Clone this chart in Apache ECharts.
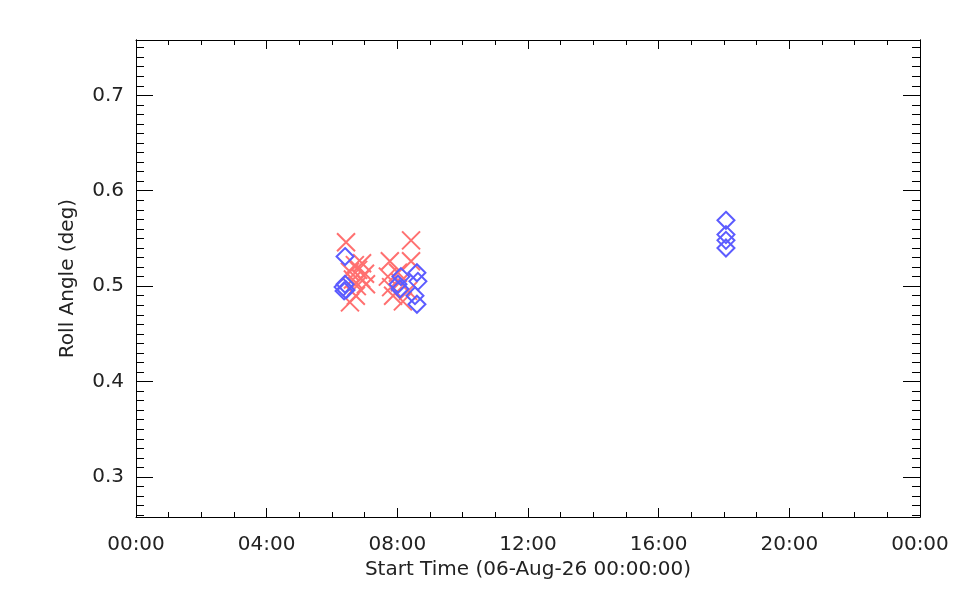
<!DOCTYPE html>
<html>
<head>
<meta charset="utf-8">
<script src="https://cdn.jsdelivr.net/npm/echarts@6/dist/echarts.min.js"></script>
<style>html,body{margin:0;padding:0;background:#fff;}#c{width:960px;height:600px;}</style>
</head>
<body>
<div id="c"></div>
<script>
// Start time in hours since 06-Aug-26 00:00:00, roll angle in deg
var redHours = [6.43, 6.70, 6.92, 6.55, 6.80, 7.01, 6.64, 6.89, 6.76, 7.04, 6.55, 6.73,
                8.42, 7.77, 8.42, 7.71, 8.02, 7.81, 7.87, 8.17, 8.33, 8.08];
var redRoll  = [0.546, 0.522, 0.524, 0.515, 0.517, 0.513, 0.507, 0.508, 0.500, 0.502, 0.483, 0.490,
                0.548, 0.526, 0.526, 0.510, 0.514, 0.499, 0.490, 0.484, 0.495, 0.504];
var blueHours = [6.40, 6.34, 6.40, 6.43, 6.37,
                 8.11, 8.02, 8.08, 8.60, 8.63, 8.54, 8.60,
                 18.06, 18.06, 18.06, 18.06];
var blueRoll  = [0.531, 0.499, 0.502, 0.496, 0.495,
                 0.510, 0.502, 0.497, 0.514, 0.505, 0.490, 0.481,
                 0.569, 0.554, 0.548, 0.540];
var yMajorTicks = [0.3, 0.4, 0.5, 0.6, 0.7];
var xTickLabels = ['00:00', '04:00', '08:00', '12:00', '16:00', '20:00', '00:00'];
var yMin = 0.258, yMax = 0.758;

var yMinorTicks = [];
for (var i = 26; i <= 75; i++) yMinorTicks.push(i / 100);

function pairs(xs, ys) { return xs.map(function (x, i) { return [x, ys[i]]; }); }

var font = 'DejaVu Sans';
var fs = 20;
var txt = '#222';
var chart = echarts.init(document.getElementById('c'));

function yAx(pos, custom, len, labels, extra) {
  var o = {
    type: 'value', position: pos, min: yMin, max: yMax,
    axisLine: { show: true, lineStyle: { color: '#000', width: 1 } },
    axisTick: { show: true, inside: true, length: len, customValues: custom, lineStyle: { color: '#000', width: 1 } },
    axisLabel: labels ? { show: true, customValues: yMajorTicks, formatter: function (v) { return v.toFixed(1); },
      fontFamily: font, fontSize: fs, color: txt, margin: 12 } : { show: false },
    splitLine: { show: false }
  };
  for (var k in extra) o[k] = extra[k];
  return o;
}
function xAx(pos, labels, extra) {
  var o = {
    type: 'value', position: pos, min: 0, max: 24, interval: 4,
    axisLine: { show: true, onZero: false, lineStyle: { color: '#000', width: 1 } },
    axisTick: { show: true, inside: true, length: 9, lineStyle: { color: '#000', width: 1 } },
    minorTick: { show: true, splitNumber: 4, length: 5, lineStyle: { color: '#000', width: 1 } },
    axisLabel: labels ? { show: true, formatter: function (v) { return xTickLabels[Math.round(v / 4)]; },
      fontFamily: font, fontSize: fs, color: txt, margin: 18 } : { show: false },
    splitLine: { show: false }, minorSplitLine: { show: false }
  };
  for (var k in extra) o[k] = extra[k];
  return o;
}

chart.setOption({
  animation: false,
  backgroundColor: '#fff',
  grid: { left: 136, right: 40, top: 40, bottom: 83, containLabel: false },
  xAxis: [
    xAx('bottom', true, { name: 'Start Time (06-Aug-26 00:00:00)', nameLocation: 'middle', nameGap: 42,
      nameTextStyle: { fontFamily: font, fontSize: fs, color: txt } }),
    xAx('top', false, {})
  ],
  yAxis: [
    yAx('left', yMajorTicks, 17, true, { name: 'Roll Angle (deg)', nameLocation: 'middle', nameGap: 58,
      nameTextStyle: { fontFamily: font, fontSize: fs, color: txt } }),
    yAx('left', yMinorTicks, 8, false, {}),
    yAx('right', yMajorTicks, 17, false, {}),
    yAx('right', yMinorTicks, 8, false, {})
  ],
  series: [
    {
      type: 'scatter', xAxisIndex: 0, yAxisIndex: 0,
      data: pairs(redHours, redRoll),
      symbol: 'path://M0,0L10,10M10,0L0,10', symbolSize: 18,
      itemStyle: { color: 'none', borderColor: '#ff7070', borderWidth: 2, opacity: 1 }
    },
    {
      type: 'scatter', xAxisIndex: 0, yAxisIndex: 0,
      data: pairs(blueHours, blueRoll),
      symbol: 'diamond', symbolSize: 17,
      itemStyle: { color: 'none', borderColor: '#5c5cff', borderWidth: 2, opacity: 1 }
    }
  ]
});
</script>
</body>
</html>
